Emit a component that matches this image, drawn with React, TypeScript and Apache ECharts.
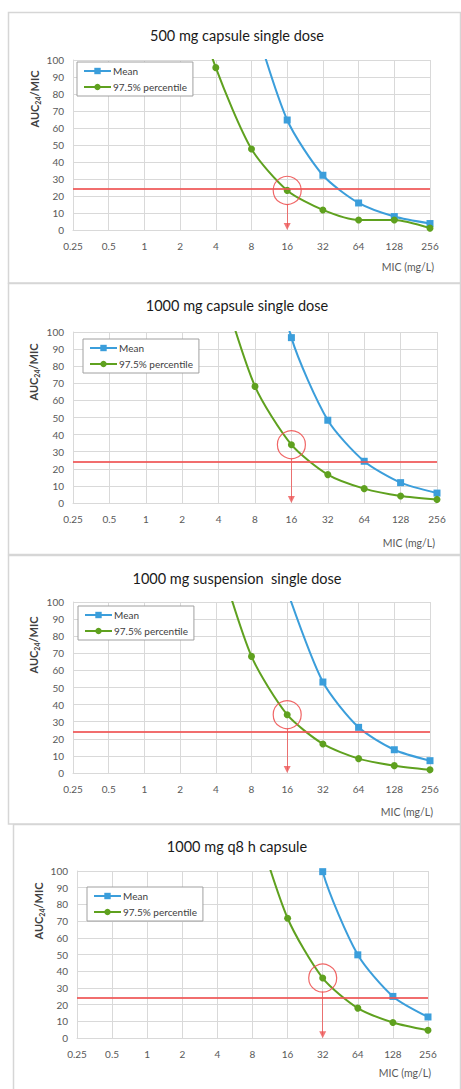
import React, { useEffect, useRef } from 'react';
import * as echarts from 'echarts';

// ---------- data ----------
const micTicks = [0.25, 0.5, 1, 2, 4, 8, 16, 32, 64, 128, 256];
const micPoints = [2, 4, 8, 16, 32, 64, 128, 256];

const panelTitles = [
  '500 mg capsule single dose',
  '1000 mg capsule single dose',
  '1000 mg suspension  single dose',
  '1000 mg q8 h capsule',
];

const meanCap500 = [null, null, 128, 64.7, 32.2, 15.9, 7.9, 3.8];
const p975Cap500 = [160, 95.5, 47.6, 23.3, 11.8, 5.9, 5.9, 1.1];
const meanCap1000 = [null, null, 190, 96.7, 48.4, 24.4, 11.9, 5.8];
const p975Cap1000 = [null, 133, 68.2, 34.1, 16.6, 8.4, 4.1, 2.1];
const meanSusp1000 = [null, null, null, 106.7, 53.2, 26.7, 13.6, 7.2];
const p975Susp1000 = [null, 132, 68.2, 34.1, 17.0, 8.4, 4.3, 1.9];
const meanQ8h = [null, null, null, 199, 99.6, 49.8, 24.9, 12.6];
const p975Q8h = [null, null, 135, 71.7, 35.9, 17.9, 9.3, 4.6];

const meanSets = [meanCap500, meanCap1000, meanSusp1000, meanQ8h];
const p975Sets = [p975Cap500, p975Cap1000, p975Susp1000, p975Q8h];

const targetRatio = 24;
const breakpointMic = [16, 16, 16, 32];
const arrowEndValue = 2;
const yTicks = [0, 10, 20, 30, 40, 50, 60, 70, 80, 90, 100];

// ---------- layout / style ----------
const FONT = 'Lato, "Noto Sans", sans-serif';
const BLUE = '#3b9edb';
const GREEN = '#5fa11f';
const RED = '#ee5555';
const GRID_LINE = '#d9d9d9';
const LABEL = '#595959';

const grids = [
  { left: 73, top: 60, width: 357, height: 170 },
  { left: 73, top: 332, width: 364, height: 171 },
  { left: 73, top: 602, width: 357, height: 171 },
  { left: 77, top: 871, width: 351, height: 167 },
];
const titleCenters = [
  [237, 35],
  [237, 305],
  [237, 578],
  [237, 846],
];
const legendPos = [
  [77, 62],
  [83, 339],
  [78, 606],
  [87, 887],
];
const yNamePos = [
  [34, 99],
  [33, 372],
  [33, 645],
  [38, 911],
];
const xNamePos = [
  [434, 267],
  [435, 543],
  [433, 812],
  [431, 1073],
];
const panelRects = [
  [8.5, 12.5, 452, 270.5],
  [8.5, 283.5, 452, 271],
  [8.5, 555.5, 452, 268.5],
  [13.5, 824.5, 447, 270],
];

function pairs(values: (number | null)[]) {
  const out: number[][] = [];
  values.forEach((v, i) => {
    if (v !== null && v !== undefined) out.push([micPoints[i], v]);
  });
  return out;
}

function buildOption() {
  const series: any[] = [];
  const xAxis: any[] = [];
  const yAxis: any[] = [];
  const title: any[] = [];
  const legend: any[] = [];
  const graphic: any[] = [];

  grids.forEach((g, i) => {
    xAxis.push({
      type: 'log',
      logBase: 2,
      gridIndex: i,
      min: micTicks[0],
      max: micTicks[micTicks.length - 1],
      interval: 1,
      axisLine: { show: true, lineStyle: { color: GRID_LINE, width: 1 } },
      axisTick: { show: false },
      splitLine: { show: true, lineStyle: { color: GRID_LINE, width: 1 } },
      minorTick: { show: false },
      axisLabel: {
        color: LABEL,
        fontSize: 10,
        fontFamily: FONT,
        margin: 11,
        formatter: (v: number) => String(Math.round(v * 100) / 100),
      },
    });
    yAxis.push({
      type: 'value',
      gridIndex: i,
      min: yTicks[0],
      max: yTicks[yTicks.length - 1],
      interval: 10,
      axisLine: { show: true, lineStyle: { color: GRID_LINE, width: 1 } },
      axisTick: { show: false },
      splitLine: { show: true, lineStyle: { color: GRID_LINE, width: 1 } },
      axisLabel: { color: LABEL, fontSize: 10, fontFamily: FONT, margin: 9 },
    });
    title.push({
      text: panelTitles[i],
      left: titleCenters[i][0],
      top: titleCenters[i][1],
      textAlign: 'center',
      textVerticalAlign: 'middle',
      padding: 0,
      textStyle: { fontSize: 14.5, fontWeight: 'normal', color: '#1a1a1a', fontFamily: FONT },
    });
    legend.push({
      data: ['Mean', '97.5% percentile'],
      orient: 'vertical',
      left: legendPos[i][0],
      top: legendPos[i][1],
      padding: [4, 6, 4, 6],
      itemGap: 6,
      itemWidth: 27,
      itemHeight: 8,
      backgroundColor: '#ffffff',
      borderColor: '#a0a0a0',
      borderWidth: 1,
      selectedMode: false,
      textStyle: { fontSize: 10, color: '#404040', fontFamily: FONT, padding: [0, 0, 0, -3] },
    });

    const meanData = pairs(meanSets[i]);
    const pData = pairs(p975Sets[i]);
    const bpIdx = micPoints.indexOf(breakpointMic[i]);
    const bpVal = p975Sets[i][bpIdx] as number;

    series.push({
      name: 'Mean',
      type: 'line',
      xAxisIndex: i,
      yAxisIndex: i,
      data: meanData,
      symbol: 'rect',
      symbolSize: 7,
      smooth: 0.25,
      lineStyle: { color: BLUE, width: 2 },
      itemStyle: { color: BLUE },
      clip: true,
      z: 3,
    });
    series.push({
      name: '97.5% percentile',
      type: 'line',
      xAxisIndex: i,
      yAxisIndex: i,
      data: pData,
      symbol: 'circle',
      symbolSize: 7,
      smooth: 0.25,
      lineStyle: { color: GREEN, width: 2 },
      itemStyle: { color: GREEN },
      clip: true,
      z: 4,
      markLine: {
        silent: true,
        animation: false,
        label: { show: false },
        symbol: ['none', 'none'],
        data: [
          {
            yAxis: targetRatio,
            lineStyle: { color: RED, width: 2, type: 'solid', opacity: 0.85 },
          },
          [
            {
              coord: [breakpointMic[i], bpVal - 8],
              symbol: 'none',
              lineStyle: { color: RED, width: 1, type: 'solid', opacity: 0.8 },
            },
            { coord: [breakpointMic[i], arrowEndValue], symbol: 'triangle', symbolSize: [7, 7] },
          ],
        ],
      },
    });
    series.push({
      name: 'breakpoint',
      type: 'scatter',
      xAxisIndex: i,
      yAxisIndex: i,
      data: [[breakpointMic[i], bpVal]],
      symbol: 'circle',
      symbolSize: 28,
      itemStyle: { color: 'rgba(0,0,0,0)', borderColor: RED, borderWidth: 1.2, opacity: 0.9 },
      silent: true,
      z: 5,
    });

    graphic.push({
      type: 'rect',
      shape: { x: panelRects[i][0], y: panelRects[i][1], width: panelRects[i][2], height: panelRects[i][3] },
      style: { fill: 'none', stroke: '#d6d6d6', lineWidth: 1.5 },
      silent: true,
      z: -10,
    });
    graphic.push({
      type: 'text',
      x: yNamePos[i][0],
      y: yNamePos[i][1],
      rotation: Math.PI / 2,
      style: {
        text: '{a|AUC}{s|24}{a|/MIC}',
        align: 'center',
        verticalAlign: 'middle',
        fill: '#404040',
        rich: {
          a: { fontSize: 11, fontFamily: FONT, fill: '#404040', fontWeight: 'bold', lineHeight: 14 },
          s: { fontSize: 7, fontFamily: FONT, fill: '#404040', verticalAlign: 'bottom', lineHeight: 9, fontWeight: 'bold' },
        },
      },
      silent: true,
    });
    graphic.push({
      type: 'text',
      x: xNamePos[i][0],
      y: xNamePos[i][1],
      style: {
        text: 'MIC (mg/L)',
        align: 'right',
        verticalAlign: 'middle',
        fill: LABEL,
        fontSize: 10.5,
        fontFamily: FONT,
      },
      silent: true,
    });
  });

  return {
    animation: false,
    backgroundColor: '#ffffff',
    title,
    legend,
    grid: grids.map((g) => ({ ...g, containLabel: false })),
    xAxis,
    yAxis,
    series,
    graphic,
  };
}

export default function App() {
  const ref = useRef<HTMLDivElement>(null);
  useEffect(() => {
    if (!ref.current) return;
    const chart = echarts.init(ref.current, undefined, { renderer: 'svg' });
    chart.setOption(buildOption() as any);
    return () => chart.dispose();
  }, []);
  return (
    <div
      ref={ref}
      style={{ position: 'absolute', left: 0, top: 0, width: 461, height: 1089, background: '#fff' }}
    />
  );
}
